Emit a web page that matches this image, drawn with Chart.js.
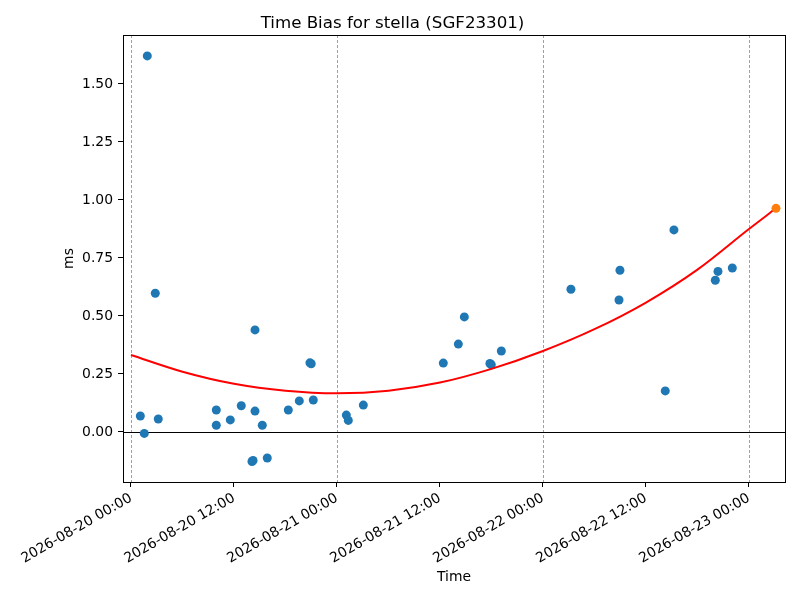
<!DOCTYPE html>
<html>
<head>
<meta charset="utf-8">
<title>Time Bias for stella (SGF23301)</title>
<script src="https://cdn.jsdelivr.net/npm/chart.js"></script>
<style>
  html, body { margin: 0; padding: 0; background: #fff; }
</style>
</head>
<body>
<canvas id="biasChart" width="800" height="600"></canvas>
<script>
// x values are hours since 2026-08-20 00:00
var biasHours = [1.09, 1.55, 1.90, 2.83, 3.18, 9.94, 9.94, 11.57, 12.85, 14.10, 14.22,
                 14.45, 14.45, 15.30, 15.88, 18.33, 19.61, 20.85, 21.00, 21.24, 25.09,
                 25.32, 27.07, 36.39, 38.14, 38.84, 41.82, 41.98, 43.15, 51.26, 56.86,
                 56.97, 62.25, 63.26, 68.08, 68.39, 70.06];
var biasMs = [0.069, -0.006, 1.621, 0.598, 0.056, 0.095, 0.029, 0.052, 0.113, -0.127, -0.123,
              0.440, 0.090, 0.029, -0.112, 0.095, 0.134, 0.298, 0.294, 0.138, 0.073,
              0.050, 0.116, 0.297, 0.379, 0.496, 0.295, 0.290, 0.349, 0.615, 0.569,
              0.697, 0.177, 0.871, 0.654, 0.692, 0.707];

var latestHours = [75.15];
var latestMs = [0.964];

// fitted trend
var fitHours = [0, 6, 12, 18, 24, 30, 36, 42, 48, 54, 60, 66, 72, 75.15];
var fitMs = [0.332, 0.260, 0.208, 0.178, 0.167, 0.178, 0.213, 0.272, 0.349, 0.443, 0.558, 0.700, 0.875, 0.964];

var xTickHours = [0, 12, 24, 36, 48, 60, 72];
var xTickLabels = ['2026-08-20 00:00', '2026-08-20 12:00', '2026-08-21 00:00', '2026-08-21 12:00',
                   '2026-08-22 00:00', '2026-08-22 12:00', '2026-08-23 00:00'];
var yTicks = [0, 0.25, 0.5, 0.75, 1.0, 1.25, 1.5];
var dayLines = [0, 24, 48, 72];

function toPoints(xs, ys) {
    return xs.map(function (x, i) { return { x: x, y: ys[i] }; });
}

var fontFamily = '"DejaVu Sans", sans-serif';

// dashed day lines, zero line and the full frame
var decorPlugin = {
    id: 'decor',
    beforeDatasetsDraw: function (chart) {
        var ctx = chart.ctx, a = chart.chartArea;
        var xs = chart.scales.x, ys = chart.scales.y;
        ctx.save();
        ctx.beginPath();
        ctx.rect(a.left, a.top, a.right - a.left, a.bottom - a.top);
        ctx.clip();
        ctx.beginPath();
        dayLines.forEach(function (h) {
            var px = Math.round(xs.getPixelForValue(h)) + 0.5;
            ctx.moveTo(px, a.top);
            ctx.lineTo(px, a.bottom);
        });
        ctx.setLineDash([3, 2]);
        ctx.strokeStyle = '#5b93c6';
        ctx.lineWidth = 0.8;
        ctx.stroke();
        ctx.setLineDash([]);
        var py = Math.round(ys.getPixelForValue(0)) + 0.5;
        ctx.beginPath();
        ctx.moveTo(a.left, py);
        ctx.lineTo(a.right, py);
        ctx.strokeStyle = '#000';
        ctx.lineWidth = 1;
        ctx.stroke();
        ctx.restore();
    },
    afterDraw: function (chart) {
        var ctx = chart.ctx, a = chart.chartArea;
        ctx.save();
        ctx.strokeStyle = '#000';
        ctx.lineWidth = 1;
        ctx.strokeRect(Math.round(a.left) + 0.5, Math.round(a.top) + 0.5,
                       Math.round(a.right - a.left), Math.round(a.bottom - a.top));
        ctx.restore();
    }
};

var ctx = document.getElementById('biasChart').getContext('2d');
var chart = new Chart(ctx, {
    type: 'scatter',
    data: {
        datasets: [{
            label: 'latest',
            data: toPoints(latestHours, latestMs),
            backgroundColor: '#ff7f0e',
            borderWidth: 0,
            pointRadius: 4.5,
            order: 0
        },
        {
            type: 'line',
            label: 'fit',
            data: toPoints(fitHours, fitMs),
            borderColor: '#ff0000',
            borderWidth: 2,
            pointRadius: 0,
            fill: false,
            cubicInterpolationMode: 'monotone',
            order: 1
        },
        {
            label: 'time bias',
            data: toPoints(biasHours, biasMs),
            backgroundColor: '#1f77b4',
            borderWidth: 0,
            pointRadius: 4.5,
            order: 2
        }]
    },
    options: {
        responsive: false,
        animation: false,
        devicePixelRatio: 1,
        layout: { padding: { left: 0, right: 15, top: 0, bottom: 0 } },
        plugins: {
            legend: { display: false },
            tooltip: { enabled: false },
            title: {
                display: true,
                text: 'Time Bias for stella (SGF23301)',
                color: '#000',
                font: { family: fontFamily, size: 16.67, weight: 'normal', lineHeight: 1.2 },
                padding: { top: 14, bottom: 1 }
            }
        },
        scales: {
            x: {
                type: 'linear',
                min: -0.93,
                max: 76.2,
                afterBuildTicks: function (s) {
                    s.ticks = xTickHours.map(function (v) { return { value: v }; });
                },
                afterFit: function (s) { s.height = 118; },
                grid: { drawOnChartArea: false, drawTicks: true, tickLength: 5, color: '#000', tickColor: '#000' },
                border: { display: true, color: '#000', width: 1 },
                ticks: {
                    autoSkip: false,
                    maxRotation: 30,
                    minRotation: 30,
                    padding: 3,
                    color: '#000',
                    font: { family: fontFamily, size: 13.9 },
                    callback: function (v, i) { return xTickLabels[i]; }
                },
                title: {
                    display: true,
                    text: 'Time',
                    color: '#000',
                    font: { family: fontFamily, size: 13.9, lineHeight: 1.2 },
                    padding: { top: 0, bottom: 14.7 }
                }
            },
            y: {
                type: 'linear',
                min: -0.2155,
                max: 1.711,
                afterBuildTicks: function (s) {
                    s.ticks = yTicks.map(function (v) { return { value: v }; });
                },
                afterFit: function (s) { s.width = 123; },
                grid: { drawOnChartArea: false, drawTicks: true, tickLength: 5, color: '#000', tickColor: '#000' },
                border: { display: true, color: '#000', width: 1 },
                ticks: {
                    padding: 5,
                    color: '#000',
                    font: { family: fontFamily, size: 13.9 },
                    callback: function (v) { return v.toFixed(2); }
                },
                title: {
                    display: true,
                    text: 'ms',
                    color: '#000',
                    font: { family: fontFamily, size: 13.9, lineHeight: 1.2 },
                    padding: { top: 60.7, bottom: 0 }
                }
            }
        }
    },
    plugins: [decorPlugin]
});
</script>
</body>
</html>
